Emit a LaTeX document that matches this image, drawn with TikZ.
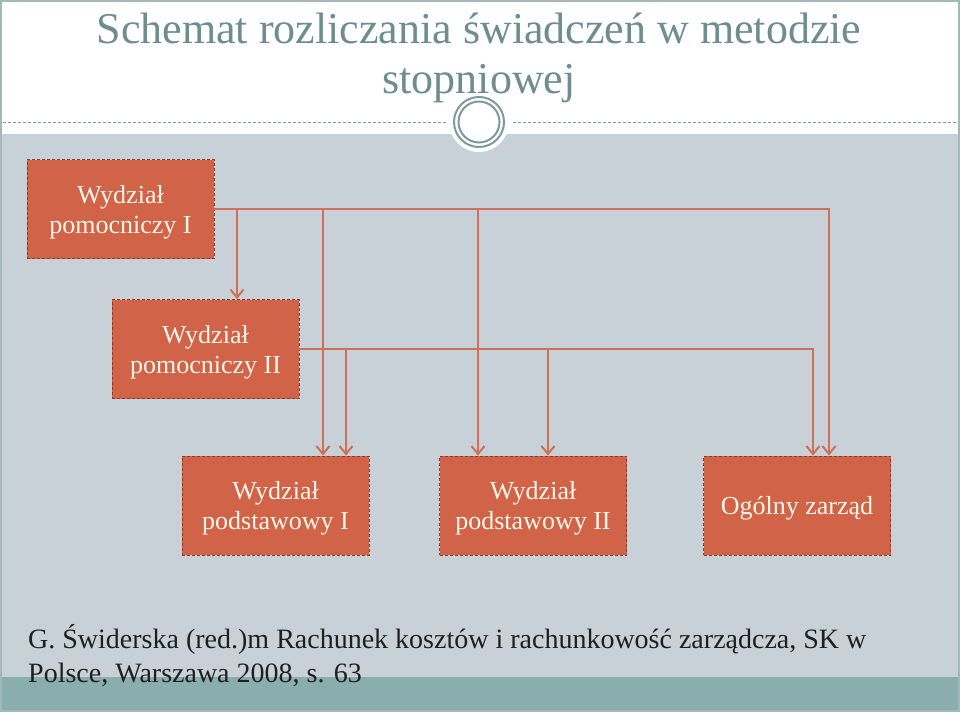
\documentclass[tikz,border=0pt]{standalone}
\usepackage{fontspec}
\setmainfont{Liberation Serif}
\usetikzlibrary{arrows.meta}

\definecolor{titlegray}{RGB}{110,142,142}
\definecolor{slidegray}{RGB}{199,209,215}
\definecolor{stripteal}{RGB}{138,173,173}
\definecolor{boxred}{RGB}{209,99,73}
\definecolor{boxedge}{RGB}{140,60,45}
\definecolor{linered}{RGB}{208,112,88}
\definecolor{boxtext}{RGB}{255,247,232}
\definecolor{ringgray}{RGB}{126,154,154}

\newcommand{\boxwidth}{187pt}
\newcommand{\boxheight}{99pt}

\begin{document}
\begin{tikzpicture}[x=1pt,y=-1pt,
	unit/.style={rectangle,
		fill=boxred,
		draw=boxedge,
		densely dashed,
		line width=0.8pt,
		minimum width=\boxwidth,
		minimum height=\boxheight,
		inner sep=0pt,
		text depth=-3pt,
		align=center,
		text=boxtext,
		font=\fontsize{26}{30}\selectfont},
	flow/.style={draw=linered, line width=2pt,
		-{Straight Barb[length=8pt,width=13pt]}},
	source/.style={anchor=base west, inner sep=0pt,
		text=black!88, font=\fontsize{28}{34}\selectfont}
	]

\useasboundingbox (0,0) rectangle (960,712);

% Slide background
\fill[white] (0,0) rectangle (960,712);
\fill[slidegray] (2,134) rectangle (958,677);
\fill[stripteal] (2,677) rectangle (958,710);
\draw[ringgray!70, line width=1.5pt] (1,1) rectangle (959,711);

% Divider and ornament
\draw[ringgray, densely dashed, line width=1pt] (3,122) -- (447,122);
\draw[ringgray, densely dashed, line width=1pt] (513,122) -- (957,122);
\fill[white] (479,122) circle (30);
\draw[ringgray, line width=2pt] (479,122) circle (25);
\draw[ringgray, line width=2pt] (479,122) circle (20.5);

% Title
\node[anchor=base, text=titlegray, font=\fontsize{44}{52}\selectfont]
	(Title-1) at (479,43) {Schemat rozliczania świadczeń w metodzie};
\node[anchor=base, text=titlegray, font=\fontsize{44}{52}\selectfont]
	(Title-2) at (479,93) {stopniowej};

% Departments
\node[unit] (Pom-1) at (120.5,209) {Wydział\\pomocniczy I};
\node[unit] (Pom-2) at (205.5,349) {Wydział\\pomocniczy II};
\node[unit] (Pod-1) at (275.5,505.5) {Wydział\\podstawowy I};
\node[unit] (Pod-2) at (533,505.5) {Wydział\\podstawowy II};
\node[unit] (Zarzad) at (797,505.5) {Ogólny zarząd};

% Allocation of Wydział pomocniczy I
\draw[flow] (Pom-1.east) -| ([xshift=32pt]Zarzad.north);
\foreach \tgt/\dx in {Pom-2/31.5, Pod-1/47.5, Pod-2/-55}
{
	\draw[flow] ([xshift=\dx pt]\tgt.north |- Pom-1.east)
		-- ([xshift=\dx pt]\tgt.north);
}

% Allocation of Wydział pomocniczy II
\draw[flow] (Pom-2.east) -| ([xshift=16pt]Zarzad.north);
\foreach \tgt/\dx in {Pod-1/70.5, Pod-2/15}
{
	\draw[flow] ([xshift=\dx pt]\tgt.north |- Pom-2.east)
		-- ([xshift=\dx pt]\tgt.north);
}

% Source
\node[source] (Source-1) at (28,648)
	{G. Świderska (red.)m Rachunek kosztów i rachunkowość zarządcza, SK w};
\node[source] (Source-2) at (28,682) {Polsce, Warszawa 2008, s. 63};

\end{tikzpicture}
\end{document}
